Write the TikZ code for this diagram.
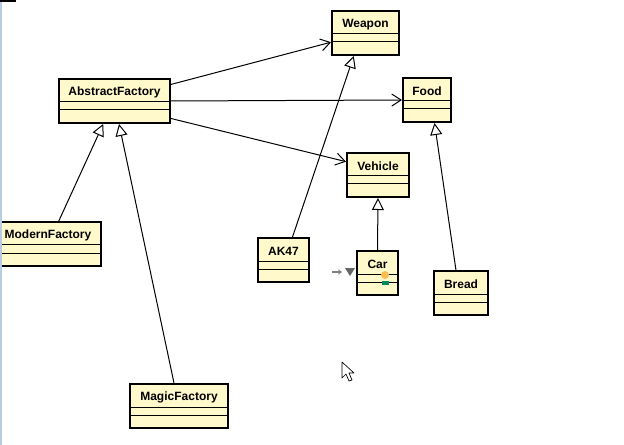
\documentclass[tikz,border=0pt]{standalone}
\usepackage{fontspec}
\setmainfont{Liberation Sans}
\usepackage{tikz}
\usetikzlibrary{calc}
\usetikzlibrary{arrows.meta}
\usepackage{xcolor}

\definecolor{classfill}{RGB}{255,249,204}
\definecolor{sidebar}{RGB}{184,204,232}
\definecolor{attrgreen}{RGB}{0,140,90}
\definecolor{attrorange}{RGB}{250,190,80}

\tikzset{
  classbox/.style={draw, line width=1.5pt, fill=classfill, anchor=north west,
    minimum height=33pt, inner sep=0pt},
  classname/.style={font=\bfseries\fontsize{9}{10}\selectfont},
  compline/.style={line width=0.75pt},
  assoc/.style={line width=0.75pt, -{Straight Barb[length=7pt,width=9pt]}},
  inherit/.style={line width=0.75pt, -{Triangle[open,fill=white,length=9pt,width=9pt]}},
}

% name, left, top, width, title
\newcommand{\umlclass}[5]{%
  \node[classbox, minimum width=#4*0.75pt] (#1) at (#2,#3) {};
  \node[classname] at ($(#1.north)+(0,14.5)$) {#5};
  \draw[compline] ($(#1.north west)+(0,24)$) -- ($(#1.north east)+(0,24)$);
  \draw[compline] ($(#1.north west)+(0,32)$) -- ($(#1.north east)+(0,32)$);
}

\begin{document}
\begin{tikzpicture}[x=0.75pt,y=-0.75pt]
\useasboundingbox (0,0) rectangle (624,445);
\clip (0,0) rectangle (624,445);

\umlclass{weapon}{331}{10}{67}{Weapon}
\umlclass{af}{58}{78}{111}{AbstractFactory}
\umlclass{food}{402}{77}{48}{Food}
\umlclass{vehicle}{346}{152}{62}{Vehicle}
\umlclass{ak}{257}{237}{51}{AK47}
\umlclass{car}{356}{250}{41}{Car}
\umlclass{bread}{433}{270}{54}{Bread}
\umlclass{modern}{-6}{221}{106}{ModernFactory}
\umlclass{magic}{129}{383}{98}{MagicFactory}

% associations
\draw[assoc] ($(af.north east)!.14!(af.south east)$) -- ($(weapon.north west)!.7!(weapon.south west)$);
\draw[assoc] (af.east) -- (food.west);
\draw[assoc] ($(af.north east)!.88!(af.south east)$) -- ($(vehicle.north west)!.21!(vehicle.south west)$);

% generalizations
\draw[inherit] ($(modern.north west)!.6!(modern.north east)$) -- ($(af.south west)!.4!(af.south east)$);
\draw[inherit] ($(magic.north west)!.45!(magic.north east)$) -- ($(af.south west)!.54!(af.south east)$);
\draw[inherit] ($(ak.north west)!.67!(ak.north east)$) -- ($(weapon.south west)!.33!(weapon.south east)$);
\draw[inherit] ($(bread.north west)!.41!(bread.north east)$) -- ($(food.south west)!.65!(food.south east)$);
\draw[inherit] (car.north) -- (vehicle.south);

% car markers
\fill[attrorange] (385,275) circle[radius=3pt];
\fill[attrgreen] (382,281) rectangle (389,285);
\coordinate (mk) at (332,272);
\draw[gray, line width=1pt, -{Stealth[length=3pt,width=4pt]}] (mk) -- ++(10,0);
\fill[black!60] (345,268) -- (355,268) -- (350,276) -- cycle;

% pointer
\draw[fill=white, line width=0.5pt, line join=round]
  (342,362) -- (342,378) -- (346,374) -- (349,381) -- (352,380) -- (349,373) -- (354,373) -- cycle;

% window edge
\fill[sidebar] (0,0) rectangle (2,445);
\fill[black] (0,0) rectangle (16,2);
\end{tikzpicture}
\end{document}
